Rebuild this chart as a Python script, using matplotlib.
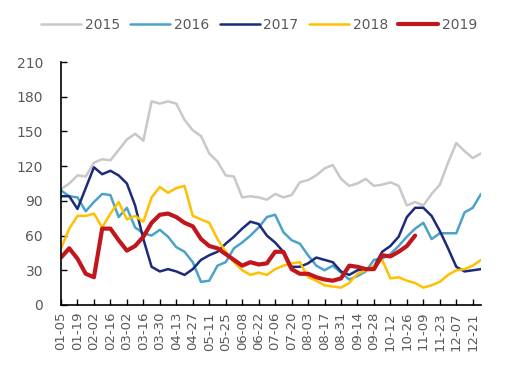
import numpy as np
import matplotlib.pyplot as plt

# weekly series, first week = 01-05
tick_labels = ['01-05', '01-19', '02-02', '02-16', '03-02', '03-16', '03-30', '04-13',
               '04-27', '05-11', '05-25', '06-08', '06-22', '07-06', '07-20', '08-03',
               '08-17', '08-31', '09-14', '09-28', '10-12', '10-26', '11-09', '11-23',
               '12-07', '12-21']

y2015 = [100, 105, 112, 111, 123, 126, 125, 134, 143, 148, 142, 176, 174, 176, 174, 160,
         151, 146, 131, 124, 112, 111, 93, 94, 93, 91, 96, 93, 95, 106, 108, 112,
         118, 121, 109, 103, 105, 109, 103, 104, 106, 103, 86, 89, 86, 96, 104, 123,
         140, 133, 127, 131]
y2016 = [99, 94, 93, 81, 89, 96, 95, 76, 84, 67, 62, 60, 65, 59, 50, 46,
         37, 20, 21, 34, 37, 49, 54, 60, 67, 76, 78, 63, 56, 53, 43, 34,
         30, 34, 28, 22, 25, 29, 39, 40, 44, 51, 59, 66, 71, 57, 62, 62,
         62, 80, 84, 96]
y2017 = [94, 94, 83, 101, 119, 113, 116, 112, 105, 86, 57, 33, 29, 31, 29, 26,
         31, 39, 43, 46, 53, 59, 66, 72, 70, 60, 54, 46, 33, 33, 36, 41,
         39, 37, 29, 26, 30, 31, 33, 46, 51, 59, 76, 84, 84, 77, 64, 49,
         33, 29, 30, 31]
y2018 = [49, 66, 77, 77, 79, 67, 79, 89, 74, 77, 72, 93, 102, 97, 101, 103,
         77, 74, 71, 57, 46, 37, 30, 26, 28, 26, 31, 34, 36, 37, 24, 21,
         17, 16, 15, 19, 27, 30, 34, 39, 23, 24, 21, 19, 15, 17, 20, 26,
         30, 31, 34, 39]
y2019 = [41, 49, 40, 27, 24, 66, 66, 56, 47, 51, 59, 71, 78, 79, 76, 71,
         68, 57, 51, 49, 44, 39, 34, 37, 35, 36, 46, 46, 31, 27, 27, 24,
         22, 21, 23, 34, 33, 31, 31, 43, 42, 46, 51, 60]

series = [('2015', y2015, '#c8c8c8', 1.8),
          ('2016', y2016, '#4ba3c9', 1.8),
          ('2017', y2017, '#1b2a7a', 1.8),
          ('2018', y2018, '#ffc000', 1.8),
          ('2019', y2019, '#c0161c', 3.0)]

fig = plt.figure(figsize=(5.11, 3.66), dpi=100)
ax = fig.add_axes([61/511, 1 - 305/366, 420/511, 243/366])

for name, vals, col, lw in series:
    ax.plot(np.arange(len(vals)), vals, color=col, lw=lw, label=name,
            solid_joinstyle='round', solid_capstyle='round')

ax.set_xlim(0, 51)
ax.set_ylim(0, 210)
ax.set_yticks(np.arange(0, 211, 30))
ax.set_xticks(np.arange(0, 52, 2))
ax.set_xticklabels(tick_labels, rotation=90)

for s in ['top', 'right']:
    ax.spines[s].set_visible(False)
for s in ['left', 'bottom']:
    ax.spines[s].set_linewidth(1.2)
ax.tick_params(direction='in', length=4, width=1, labelsize=10, labelcolor='#595959')
ax.tick_params(axis='x', pad=5, labelsize=9.5)
ax.tick_params(axis='y', pad=13)

fig.legend(loc='center', bbox_to_anchor=(259/511, 1 - 25/366), ncol=5, frameon=False,
           fontsize=10, handlelength=2.9, handletextpad=0.25, columnspacing=0.75,
           labelcolor='#595959')

fig.savefig('out.png', dpi=100)
